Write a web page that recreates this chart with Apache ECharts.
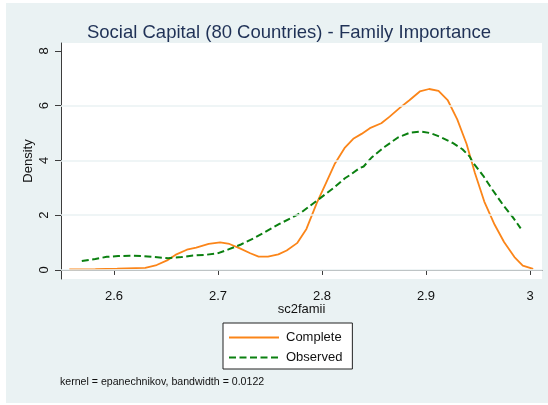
<!DOCTYPE html>
<html>
<head>
<meta charset="utf-8">
<script src="https://cdn.jsdelivr.net/npm/echarts@6/dist/echarts.min.js"></script>
<style>
  html, body { margin: 0; padding: 0; background: #ffffff; }
  #chart { width: 548px; height: 405px; }
</style>
</head>
<body>
<div id="chart"></div>
<script>
// Kernel density estimates of sc2famii
const completeX = [2.557, 2.582, 2.603, 2.630, 2.641, 2.651, 2.660, 2.670, 2.679, 2.691,
  2.702, 2.711, 2.721, 2.731, 2.739, 2.748, 2.758, 2.766, 2.776, 2.785,
  2.795, 2.803, 2.812, 2.822, 2.830, 2.838, 2.846, 2.857, 2.865, 2.875,
  2.884, 2.894, 2.903, 2.912, 2.921, 2.930, 2.939, 2.947, 2.956, 2.966,
  2.975, 2.985, 2.993, 3.003];
const completeY = [0.02, 0.03, 0.05, 0.08, 0.18, 0.35, 0.57, 0.74, 0.82, 0.95,
  1.01, 0.95, 0.79, 0.61, 0.49, 0.49, 0.57, 0.71, 0.98, 1.50,
  2.45, 3.11, 3.86, 4.47, 4.79, 4.97, 5.18, 5.36, 5.60, 5.93,
  6.20, 6.52, 6.61, 6.54, 6.19, 5.50, 4.60, 3.54, 2.50, 1.65,
  1.02, 0.47, 0.16, 0.04];

const observedX = [2.569, 2.582, 2.593, 2.604, 2.615, 2.627, 2.639, 2.652, 2.665, 2.676,
  2.687, 2.699, 2.710, 2.722, 2.734, 2.743, 2.759, 2.779, 2.796, 2.811,
  2.822, 2.827, 2.836, 2.840, 2.848, 2.860, 2.873, 2.885, 2.895, 2.904,
  2.913, 2.926, 2.935, 2.942, 2.945, 2.955, 2.964, 2.974, 2.983, 2.991];
const observedY = [0.33, 0.40, 0.48, 0.51, 0.52, 0.51, 0.47, 0.43, 0.47, 0.53,
  0.55, 0.60, 0.75, 0.93, 1.15, 1.34, 1.68, 2.07, 2.56, 2.99,
  3.35, 3.47, 3.72, 3.78, 4.12, 4.49, 4.84, 5.02, 5.06, 5.00,
  4.87, 4.63, 4.41, 4.14, 3.93, 3.44, 2.92, 2.38, 1.95, 1.52];

const seriesNames = ['Complete', 'Observed'];
const xTicks = [2.6, 2.7, 2.8, 2.9, 3];
const yTicks = [0, 2, 4, 6, 8];
const yGrid = [0, 2, 4, 6];

const pairs = (xs, ys) => xs.map((x, i) => [x, ys[i]]);

const FONT = '"Liberation Sans", Arial, Helvetica, sans-serif';
const PANEL = '#EAF2F3';
const AXIS = '#3c3c3c';

const chart = echarts.init(document.getElementById('chart'), null, { renderer: 'canvas' });

chart.setOption({
  backgroundColor: '#ffffff',
  animation: false,
  textStyle: { fontFamily: FONT },
  graphic: [
    {
      type: 'rect', z: -10, silent: true,
      shape: { x: 6, y: 3, width: 542, height: 400 },
      style: { fill: PANEL }
    },
    {
      type: 'text', left: 60, top: 377, silent: true,
      style: {
        text: 'kernel = epanechnikov, bandwidth = 0.0122',
        fontFamily: FONT, fontSize: 10.6, fill: '#111'
      }
    }
  ],
  title: {
    text: 'Social Capital (80 Countries) - Family Importance',
    left: 284, top: 18, textAlign: 'center',
    textStyle: { fontFamily: FONT, fontSize: 18.5, fontWeight: 'normal', color: '#1F3156' }
  },
  legend: {
    data: seriesNames,
    orient: 'vertical',
    left: 223, top: 323,
    padding: [8, 10, 5, 5],
    itemGap: 7,
    itemWidth: 50, itemHeight: 13,
    backgroundColor: '#ffffff',
    borderColor: '#222', borderWidth: 1, borderRadius: 0,
    itemStyle: { opacity: 0 },
    textStyle: { fontFamily: FONT, fontSize: 13, color: '#111', padding: [0, 0, 0, 2] }
  },
  grid: {
    left: 61, right: 6, top: 43, bottom: 126,
    show: true, backgroundColor: '#ffffff', borderWidth: 0
  },
  xAxis: {
    type: 'value',
    min: 2.549, max: 3.0115,
    name: 'sc2famii', nameLocation: 'middle', nameGap: 24, nameMoveOverlap: false,
    nameTextStyle: { fontFamily: FONT, fontSize: 13, color: '#111' },
    axisLine: { show: true, lineStyle: { color: AXIS, width: 1 } },
    axisTick: { show: true, length: 5, customValues: xTicks, lineStyle: { color: AXIS } },
    axisLabel: { customValues: xTicks, margin: 11, fontSize: 13, color: '#111', fontFamily: FONT },
    splitLine: { show: false }
  },
  yAxis: {
    type: 'value',
    min: -0.33, max: 8.29,
    name: 'Density', nameLocation: 'middle', nameGap: 26, nameRotate: 90, nameMoveOverlap: false,
    nameTextStyle: { fontFamily: FONT, fontSize: 13, color: '#111' },
    axisLine: { show: true, lineStyle: { color: AXIS, width: 1 } },
    axisTick: { show: true, length: 6, customValues: yTicks, lineStyle: { color: AXIS } },
    axisLabel: { customValues: yTicks, rotate: 90, margin: 10, fontSize: 13, color: '#111', fontFamily: FONT },
    splitLine: { show: false }
  },
  series: [
    {
      name: 'grid', type: 'line', data: [], z: 1, silent: true,
      markLine: {
        silent: true, symbol: 'none', label: { show: false },
        lineStyle: { color: PANEL, width: 1.5, type: 'solid' },
        data: yGrid.map(v => ({ yAxis: v }))
      }
    },
    {
      name: seriesNames[0], type: 'line', z: 3,
      data: pairs(completeX, completeY),
      symbol: 'none', showSymbol: false, smooth: false,
      itemStyle: { color: '#FB8519' },
      lineStyle: { color: '#FB8519', width: 1.8, type: 'solid' }
    },
    {
      name: seriesNames[1], type: 'line', z: 4,
      data: pairs(observedX, observedY),
      symbol: 'none', showSymbol: false, smooth: false,
      itemStyle: { color: '#0B8010' },
      lineStyle: { color: '#0B8010', width: 2, type: [7, 3.5] }
    }
  ]
});
</script>
</body>
</html>
